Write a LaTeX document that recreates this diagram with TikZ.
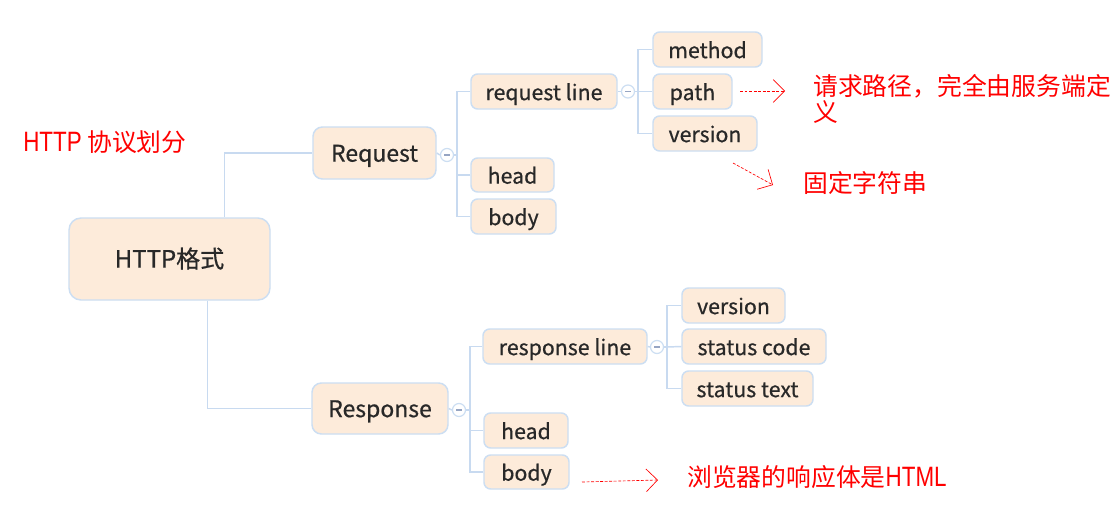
\documentclass[tikz,border=0pt]{standalone}
\usepackage{fontspec}
\newfontfamily\cjk{Noto Sans CJK SC}
\newfontfamily\cjkbox[FakeBold=0.6]{Noto Sans CJK SC}
\newfontfamily\redlat[FakeStretch=0.8]{Liberation Sans}
\usetikzlibrary{arrows.meta}
\definecolor{boxfill}{RGB}{253,235,218}
\definecolor{boxline}{RGB}{204,222,242}
\definecolor{connc}{RGB}{200,218,240}
\definecolor{txt}{RGB}{40,40,40}
\definecolor{minusc}{RGB}{150,165,195}
\tikzset{
  sz/.style 2 args={minimum width=#1*0.75pt, minimum height=#2*0.75pt},
  box/.style={draw=boxline, fill=boxfill, rounded corners=5pt, line width=1.1pt,
    inner sep=0pt, text=txt, font=\cjkbox\fontsize{16}{18}\selectfont,
    text height=1.3em, text depth=0em},
  bigbox/.style={box, font=\cjkbox\fontsize{17.25}{20}\selectfont, rounded corners=7pt},
  rootbox/.style={box, font=\cjkbox\fontsize{18}{20}\selectfont, rounded corners=9pt},
  conn/.style={draw=connc, line width=1.1pt},
  tog/.style={circle, draw=boxline, fill=white, line width=0.9pt, minimum size=9.75pt, inner sep=0pt},
  minusmark/.style={draw=minusc, line width=0.8pt},
  note/.style={text=red, font=\cjk\fontsize{18.6}{19.5}\selectfont, inner sep=0pt, anchor=west, align=left},
  notearrow/.style={draw=red, dash pattern=on 2.2pt off 1.2pt, line width=0.5pt,
    -{Straight Barb[length=8.5pt, width=17pt]}}
}
\begin{document}
\begin{tikzpicture}[x=0.75pt, y=-0.75pt]
\useasboundingbox[fill=white] (0,0) rectangle (1115,511);

% nodes
\node[rootbox, sz={201}{82}] (root) at (169.5,259) {HTTP格式};
\node[bigbox, sz={123}{52}] (req) at (374.5,153) {Request};
\node[bigbox, sz={136}{51}] (resp) at (380,408.5) {Response};

\node[box, sz={146}{35}] (reql) at (544,91.5) {request line};
\node[box, sz={83}{34}] (reqh) at (512.5,175) {head};
\node[box, sz={85}{35}] (reqb) at (513.5,216.5) {body};

\node[box, sz={109}{35}] (meth) at (707.5,49.5) {method};
\node[box, sz={79}{35}] (path) at (692.5,91.5) {path};
\node[box, sz={104}{35}] (reqv) at (705,133.5) {version};

\node[box, sz={164}{35}] (respl) at (565,346.5) {response line};
\node[box, sz={84}{35}] (resph) at (526,430.5) {head};
\node[box, sz={85}{34}] (respb) at (526.5,472) {body};

\node[box, sz={103}{35}] (respv) at (733.5,305.5) {version};
\node[box, sz={144}{35}] (scode) at (754,346.5) {status code};
\node[box, sz={131}{35}] (stext) at (747.5,388.5) {status text};

% toggles
\node[tog] (reqc) at (447,155) {};
\node[tog] (reqlc) at (628,91.5) {};
\node[tog] (respc) at (459,410) {};
\node[tog] (resplc) at (657,347) {};
\foreach \c in {reqc,reqlc,respc,resplc}{
  \draw[minusmark] ([xshift=-2.2pt]\c.center) -- ([xshift=2.2pt]\c.center);
}

% bus coordinates
\coordinate (reqbus) at (457,155);
\coordinate (reqlbus) at (638,91.5);
\coordinate (respbus) at (470,410);
\coordinate (resplbus) at (667,347);

% connectors
\draw[conn] ([xshift=117pt]root.north west) |- (req.west);
\draw[conn] ([xshift=104.25pt]root.south west) |- (resp.west);

\draw[conn] (req.east) -- (reqc.west);
\draw[conn] (reqc.east) -- (reqbus);
\draw[conn] (reql.west) -| (reqbus);
\draw[conn] (reqh.west) -| (reqbus);
\draw[conn] (reqb.west) -| (reqbus);

\draw[conn] (reql.east) -- (reqlc.west);
\draw[conn] (reqlc.east) -- (reqlbus);
\draw[conn] (meth.west) -| (reqlbus);
\draw[conn] (path.west) -- (reqlbus);
\draw[conn] (reqv.west) -| (reqlbus);

\draw[conn] (resp.east) -- (respc.west);
\draw[conn] (respc.east) -- (respbus);
\draw[conn] (respl.west) -| (respbus);
\draw[conn] (resph.west) -| (respbus);
\draw[conn] (respb.west) -| (respbus);

\draw[conn] (respl.east) -- (resplc.west);
\draw[conn] (resplc.east) -- (resplbus);
\draw[conn] (respv.west) -| (resplbus);
\draw[conn] (scode.west) -- (resplbus);
\draw[conn] (stext.west) -| (resplbus);

% notes
\node[note] (n0) at (23,142) {{\redlat\fontsize{21}{22}\selectfont HTTP} 协议划分};
\node[note] (n1) at (813,99) {请求路径，完全由服务端定\\义};
\node[note] (n2) at (803,183) {固定字符串};
\node[note] (n3) at (687,477) {浏览器的响应体是{\redlat\fontsize{21}{22}\selectfont HTML}};

% note arrows
\coordinate (a1s) at (740,91);
\coordinate (a1e) at (785,91);
\coordinate (a2s) at (733,163);
\coordinate (a2e) at (773,185);
\coordinate (a3s) at (582,482);
\coordinate (a3e) at (658,480);
\draw[notearrow] (a1s) -- (a1e);
\draw[notearrow] (a2s) -- (a2e);
\draw[notearrow] (a3s) -- (a3e);
\end{tikzpicture}
\end{document}
